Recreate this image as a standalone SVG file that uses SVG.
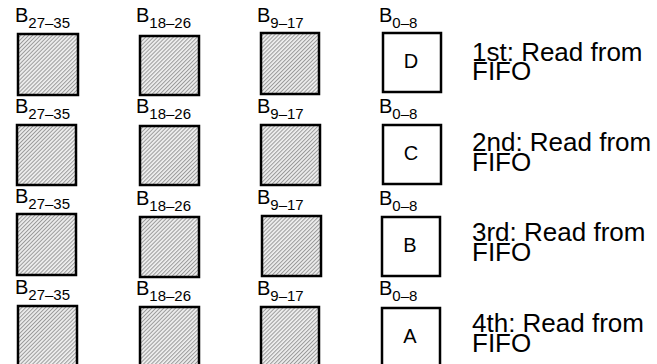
<svg xmlns="http://www.w3.org/2000/svg" width="657" height="364" viewBox="0 0 657 364">
<defs>
<pattern id="hatch" width="2.8" height="2.8" patternUnits="userSpaceOnUse" patternTransform="rotate(45)">
<rect width="2.8" height="2.8" fill="#eeeeee"/>
<rect x="0" y="0" width="1" height="2.8" fill="#9a9a9a"/>
</pattern>
</defs>
<style>
.h{fill:url(#hatch);stroke:#000;stroke-width:2.5}
.w{fill:#fff;stroke:#000;stroke-width:2.5}
text{font-family:"Liberation Sans",Arial,sans-serif;fill:#000}
.lb{font-size:20px}
.sb{font-size:15px}
.c{font-size:20px;text-anchor:middle}
.r{font-size:26px}
</style>
<rect width="657" height="364" fill="#fff"/>
<g id="row1">
<g id="r1c1"><text class="lb" x="15" y="22">B<tspan class="sb" dy="6">27–35</tspan></text><rect class="h" x="18" y="34" width="60" height="61"/></g>
<g id="r1c2"><text class="lb" x="136" y="22">B<tspan class="sb" dy="6">18–26</tspan></text><rect class="h" x="140" y="36" width="59" height="59"/></g>
<g id="r1c3"><text class="lb" x="257" y="22">B<tspan class="sb" dy="6">9–17</tspan></text><rect class="h" x="261" y="33" width="58" height="61"/></g>
<g id="r1c4"><text class="lb" x="379" y="22">B<tspan class="sb" dy="6">0–8</tspan></text><rect class="w" x="383" y="33" width="58" height="59"/><text class="c" x="411" y="68">D</text></g>
<g id="r1t"><text class="r" x="472" y="61">1st: Read from</text><text class="r" x="472" y="80">FIFO</text></g>
</g>
<g id="row2">
<g id="r2c1"><text class="lb" x="15" y="113">B<tspan class="sb" dy="6">27–35</tspan></text><rect class="h" x="17" y="125" width="59" height="60"/></g>
<g id="r2c2"><text class="lb" x="136" y="113">B<tspan class="sb" dy="6">18–26</tspan></text><rect class="h" x="140" y="126" width="59" height="59"/></g>
<g id="r2c3"><text class="lb" x="257" y="113">B<tspan class="sb" dy="6">9–17</tspan></text><rect class="h" x="261" y="125" width="59" height="60"/></g>
<g id="r2c4"><text class="lb" x="379" y="113">B<tspan class="sb" dy="6">0–8</tspan></text><rect class="w" x="383" y="125" width="58" height="59"/><text class="c" x="411" y="160">C</text></g>
<g id="r2t"><text class="r" x="472" y="151">2nd: Read from</text><text class="r" x="472" y="171">FIFO</text></g>
</g>
<g id="row3">
<g id="r3c1"><text class="lb" x="15" y="203">B<tspan class="sb" dy="6">27–35</tspan></text><rect class="h" x="17" y="214" width="59" height="61"/></g>
<g id="r3c2"><text class="lb" x="136" y="205">B<tspan class="sb" dy="6">18–26</tspan></text><rect class="h" x="140" y="217" width="59" height="60"/></g>
<g id="r3c3"><text class="lb" x="257" y="204">B<tspan class="sb" dy="6">9–17</tspan></text><rect class="h" x="262" y="216" width="59" height="60"/></g>
<g id="r3c4"><text class="lb" x="379" y="205">B<tspan class="sb" dy="6">0–8</tspan></text><rect class="w" x="382" y="217" width="58" height="59"/><text class="c" x="410" y="252">B</text></g>
<g id="r3t"><text class="r" x="472" y="241">3rd: Read from</text><text class="r" x="472" y="261">FIFO</text></g>
</g>
<g id="row4">
<g id="r4c1"><text class="lb" x="15" y="294">B<tspan class="sb" dy="6">27–35</tspan></text><rect class="h" x="18" y="306" width="59" height="62"/></g>
<g id="r4c2"><text class="lb" x="136" y="295">B<tspan class="sb" dy="6">18–26</tspan></text><rect class="h" x="140" y="307" width="59" height="60"/></g>
<g id="r4c3"><text class="lb" x="257" y="295">B<tspan class="sb" dy="6">9–17</tspan></text><rect class="h" x="261" y="307" width="58" height="60"/></g>
<g id="r4c4"><text class="lb" x="379" y="295">B<tspan class="sb" dy="6">0–8</tspan></text><rect class="w" x="382" y="308" width="58" height="60"/><text class="c" x="410" y="343">A</text></g>
<g id="r4t"><text class="r" x="472" y="332">4th: Read from</text><text class="r" x="472" y="352">FIFO</text></g>
</g>
</svg>
